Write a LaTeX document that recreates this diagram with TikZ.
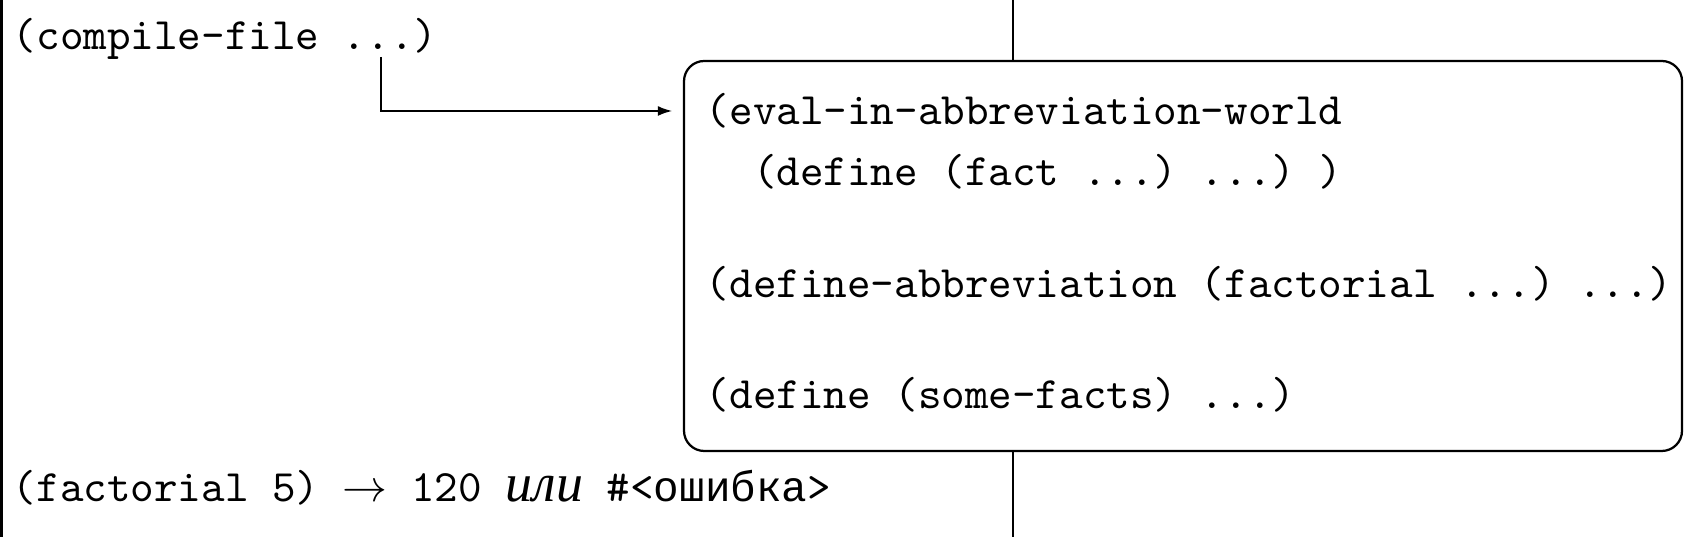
\documentclass[tikz,border=0pt]{standalone}
\usepackage{fontspec}
\usepackage{tikz}
\usetikzlibrary{arrows.meta,positioning,fit}
\newfontfamily\cyrtt[Scale=0.95]{Liberation Mono}
\newfontfamily\cyrit{Liberation Serif}
\frenchspacing

\begin{document}
\begin{tikzpicture}[x=0.2227pt,y=-0.2227pt,
    every node/.style={font=\ttfamily, inner sep=0pt, anchor=base west},
    rule/.style={draw=black, line width=0.45pt},
    link/.style={draw=black, line width=0.45pt, -{Latex[length=3.2pt,width=2.2pt]}, shorten >=2.6pt}]
  \useasboundingbox (0,0) rectangle (1685,537);
  % the two rulers
  \coordinate (lefttop) at (1.5,0);
  \coordinate (leftbot) at (1.5,537);
  \coordinate (midtop)  at (1013,0);
  \coordinate (midbot)  at (1013,537);
  % the world box
  \coordinate (boxnw) at (684,61);
  \coordinate (boxse) at (1682,451);
  \node[draw, line width=0.5pt, rounded corners=4.5pt, fit=(boxnw)(boxse)] (world) {};
  \node (compile) at (12,50) {(compile-file ...)};
  \node (evalw)   at (705,125) {(eval-in-abbreviation-world};
  \node (deffact) at (705,186) {\ \ (define (fact ...) ...) )};
  \node (defabbr) at (705,298) {(define-abbreviation (factorial ...) ...)};
  \node (defsome) at (705,409) {(define (some-facts) ...)};
  \node (result)  at (12,502)
    {(factorial 5) $\rightarrow$ 120 {\rmfamily\cyrit\itshape\large или} \#<{\cyrtt ошибка}>};
  \draw[rule, line width=0.7pt] (lefttop) -- (leftbot);
  \draw[rule] (midtop) -- (midtop |- world.north);
  \draw[rule] (midbot) -- (midbot |- world.south);
  \coordinate (dots)  at (381,57);
  \coordinate (entry) at (684,111);
  \draw[link] (dots) |- (entry);
\end{tikzpicture}
\end{document}
